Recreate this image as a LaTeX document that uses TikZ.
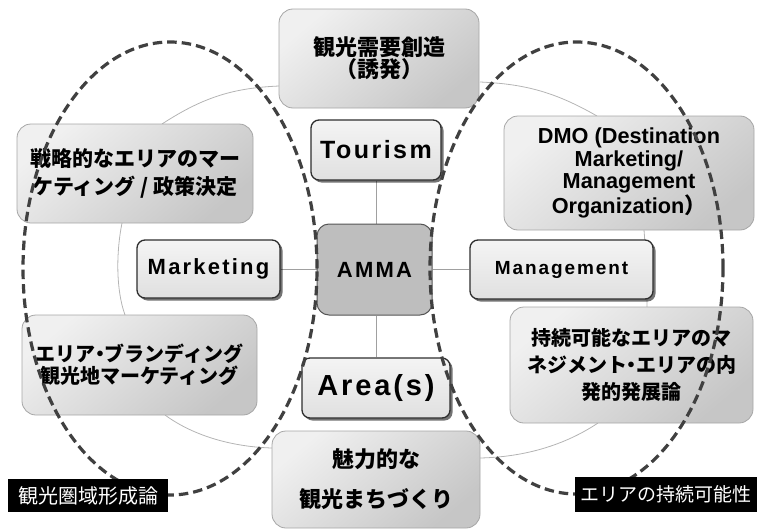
\documentclass[tikz,border=0pt]{standalone}
\usepackage{fontspec}
\setmainfont{Liberation Sans}
\newfontfamily\jp{Noto Sans CJK JP}
\newfontfamily\spc{Liberation Sans}[LetterSpace=10]
\usetikzlibrary{shadows}
\pgfdeclarelayer{background}
\pgfsetlayers{background,main}
\definecolor{ringc}{HTML}{B4B4B4}
\definecolor{spokec}{HTML}{A0A0A0}
\definecolor{outerborder}{HTML}{A6A6A6}
\definecolor{outerlight}{HTML}{F0F0F0}
\definecolor{outerdark}{HTML}{C6C6C6}
\definecolor{innerborder}{HTML}{2E2E2E}
\definecolor{innerlight}{HTML}{F4F4F4}
\definecolor{innerdark}{HTML}{E0E0E0}
\definecolor{ammafill}{HTML}{BEBEBE}
\definecolor{ammaborder}{HTML}{555555}
\definecolor{dashc}{HTML}{404040}
\newcommand\jpb{\jp\bfseries}
\newcommand\nakaguro{\hbox to 9pt{\hss・\hss}}
\begin{document}
\begin{tikzpicture}[x=1pt,y=-1pt,
  outerbox/.style={draw=outerborder, line width=0.8pt, rounded corners=14pt,
    top color=outerlight, bottom color=outerdark, shading angle=40,
    inner sep=0pt, align=center, text=black},
  innerbox/.style={draw=innerborder, line width=1.3pt, rounded corners=8pt,
    top color=innerlight, bottom color=innerdark,
    drop shadow={shadow xshift=2.5pt, shadow yshift=-2.5pt, opacity=0.55, fill=black},
    inner sep=0pt, align=center, text=black},
  ammabox/.style={draw=ammaborder, line width=1pt, rounded corners=12pt,
    fill=ammafill, inner sep=0pt, align=center, text=black},
  labelbox/.style={fill=black, text=white, inner sep=0pt, align=center},
  ring/.style={draw=ringc, line width=0.8pt},
  spoke/.style={draw=spokec, line width=0.9pt},
  dashline/.style={draw=dashc, line width=3.2pt, dash pattern=on 9.5pt off 5pt},
]
\useasboundingbox (0,0) rectangle (757,530);

% ring arcs (behind everything)
\begin{pgfonlayer}{background}
\draw[ring] (162,124) .. controls (205,96) and (235,88) .. (279,86);
\draw[ring] (480,82) .. controls (525,84) and (555,92) .. (597,116);
\draw[ring] (122,223) .. controls (116,253) and (116,290) .. (125,315);
\draw[ring] (644,230) .. controls (646,255) and (647,285) .. (647,307);
\draw[ring] (165,415) .. controls (195,437) and (235,447) .. (272,448);
\draw[ring] (480,458) .. controls (525,457) and (565,445) .. (598,423);
\end{pgfonlayer}

% outer boxes
\node[outerbox, minimum width=200pt, minimum height=99pt,
  font=\jpb\fontsize{22}{22}\selectfont] (top) at (379,58.5) {観光需要創造\\（誘発）};
\node[outerbox, minimum width=250pt, minimum height=114pt,
  font=\bfseries\fontsize{21.7}{22.5}\selectfont] (dmo) at (629,173)
  {DMO (Destination\\Marketing/\\Management\\Organization{\jp ）}};
\node[outerbox, minimum width=236pt, minimum height=99pt,
  font=\jpb\fontsize{21}{28}\selectfont] (strat) at (135,173.5)
  {戦略的なエリアのマー\\ケティング / 政策決定};
\node[outerbox, minimum width=235pt, minimum height=100pt,
  font=\jpb\fontsize{20}{22}\selectfont] (brand) at (139.5,365)
  {エリア\nakaguro ブランディング\\観光地マーケティング};
\node[outerbox, minimum width=243pt, minimum height=116pt,
  font=\jpb\fontsize{20}{27}\selectfont] (sust) at (631.5,365)
  {持続可能なエリアのマ\\ネジメント\nakaguro エリアの内\\発的発展論};
\node[outerbox, minimum width=208pt, minimum height=97pt,
  font=\jpb\fontsize{22}{40}\selectfont] (bottom) at (376,479.5)
  {魅力的な\\観光まちづくり};

% inner boxes
\node[innerbox, minimum width=130pt, minimum height=60pt,
  font=\spc\bfseries\fontsize{25}{25}\selectfont] (tourism) at (376,150) {Tourism};
\node[innerbox, minimum width=143pt, minimum height=58pt,
  font=\spc\bfseries\fontsize{22}{22}\selectfont] (marketing) at (208.5,269) {Marketing};
\node[innerbox, minimum width=183pt, minimum height=59pt,
  font=\spc\bfseries\fontsize{19}{19}\selectfont] (management) at (561.5,269.5) {Management};
\node[innerbox, minimum width=148pt, minimum height=60pt,
  font=\spc\bfseries\fontsize{29}{29}\selectfont] (area) at (376,388) {Area(s)};
\node[ammabox, minimum width=115pt, minimum height=91pt,
  font=\spc\bfseries\fontsize{22}{22}\selectfont] (amma) at (374.5,269.5) {AMMA};

% spokes
\begin{pgfonlayer}{background}
\draw[spoke] (tourism.south) -- (tourism.south |- amma.north);
\draw[spoke] (area.north) -- (area.north |- amma.south);
\draw[spoke] (marketing.east) -- (marketing.east -| amma.west);
\draw[spoke] (management.west) -- (management.west -| amma.east);
\end{pgfonlayer}

% dashed ellipses
\draw[dashline] (170,268.5) ellipse [x radius=147pt, y radius=226.5pt];
\draw[dashline] (576.5,268) ellipse [x radius=146.5pt, y radius=226pt];

% labels
\node[labelbox, minimum width=160pt, minimum height=33pt,
  font=\jp\fontsize{20}{20}\selectfont] (lab1) at (88,495.5) {観光圏域形成論};
\node[labelbox, minimum width=182pt, minimum height=35pt,
  font=\jp\fontsize{19}{19}\selectfont] (lab2) at (666,494.5) {エリアの持続可能性};
\end{tikzpicture}
\end{document}
